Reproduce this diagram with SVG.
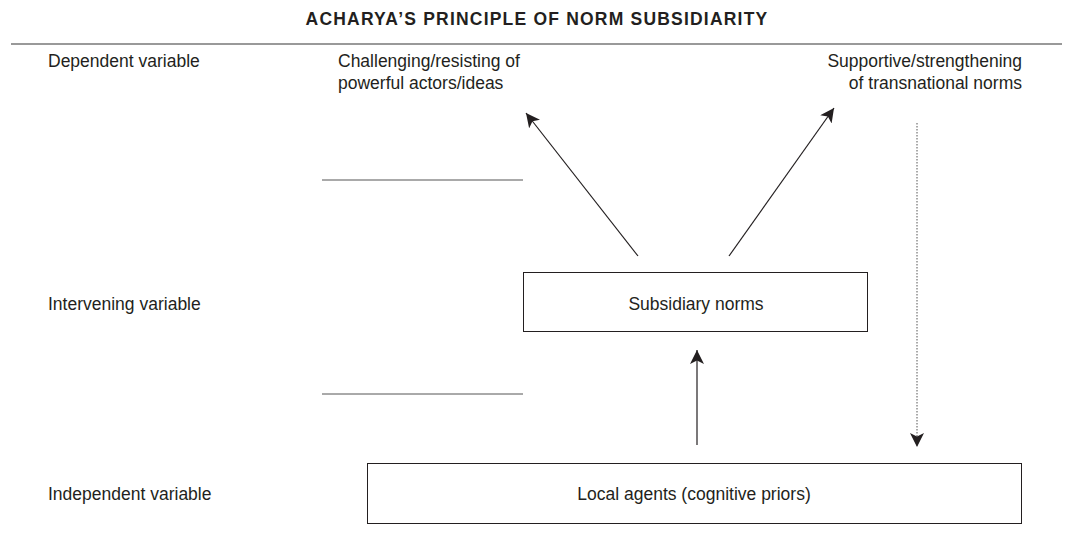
<svg xmlns="http://www.w3.org/2000/svg" width="1065" height="535" viewBox="0 0 1065 535">
<style>
text{font-family:"Liberation Sans",Arial,sans-serif;font-size:17.5px;fill:#231f20}
.title{font-weight:bold;font-size:17.5px;letter-spacing:1.2px}
.box{fill:#fff;stroke:#231f20;stroke-width:1}
.rule{stroke:#555;stroke-width:1}
.arr{stroke:#231f20;stroke-width:1.2;fill:none}
.dot{stroke:#555;stroke-width:1;stroke-dasharray:1.5 1.5;fill:none}
</style>
<defs>
<marker id="ah2" viewBox="0 0 10 10" refX="10" refY="5" markerWidth="14" markerHeight="14" markerUnits="userSpaceOnUse" orient="auto">
<path d="M0,0 L10,5 L0,10 L2.5,5 Z" fill="#231f20"/>
</marker>
</defs>
<text class="title" x="537" y="25" text-anchor="middle">ACHARYA’S PRINCIPLE OF NORM SUBSIDIARITY</text>
<line x1="11" y1="44" x2="1062" y2="44" stroke="#777" stroke-width="1.6"/>
<g id="labels">
<text x="48" y="67">Dependent variable</text>
<text x="48" y="310">Intervening variable</text>
<text x="48" y="500">Independent variable</text>
</g>
<g id="challenging">
<text x="338" y="67">Challenging/resisting of</text>
<text x="338" y="89">powerful actors/ideas</text>
</g>
<g id="supportive">
<text x="1022" y="67" text-anchor="end">Supportive/strengthening</text>
<text x="1022" y="89" text-anchor="end">of transnational norms</text>
</g>
<line class="rule" x1="322" y1="180" x2="523" y2="180"/>
<line class="rule" x1="322" y1="394" x2="523" y2="394"/>
<g id="subsidiary">
<rect class="box" x="523.5" y="272.5" width="344" height="59"/>
<text x="696" y="310" text-anchor="middle">Subsidiary norms</text>
</g>
<g id="local">
<rect class="box" x="367.5" y="463.5" width="654" height="60"/>
<text x="694" y="500" text-anchor="middle">Local agents (cognitive priors)</text>
</g>
<g id="connectors">
<line class="arr" x1="638" y1="256" x2="526" y2="113" marker-end="url(#ah2)"/>
<line class="arr" x1="729" y1="256" x2="834" y2="108" marker-end="url(#ah2)"/>
<line class="arr" x1="697" y1="445" x2="697" y2="350" marker-end="url(#ah2)"/>
<line class="dot" x1="917" y1="123" x2="917" y2="447" marker-end="url(#ah2)"/>
</g>
</svg>
